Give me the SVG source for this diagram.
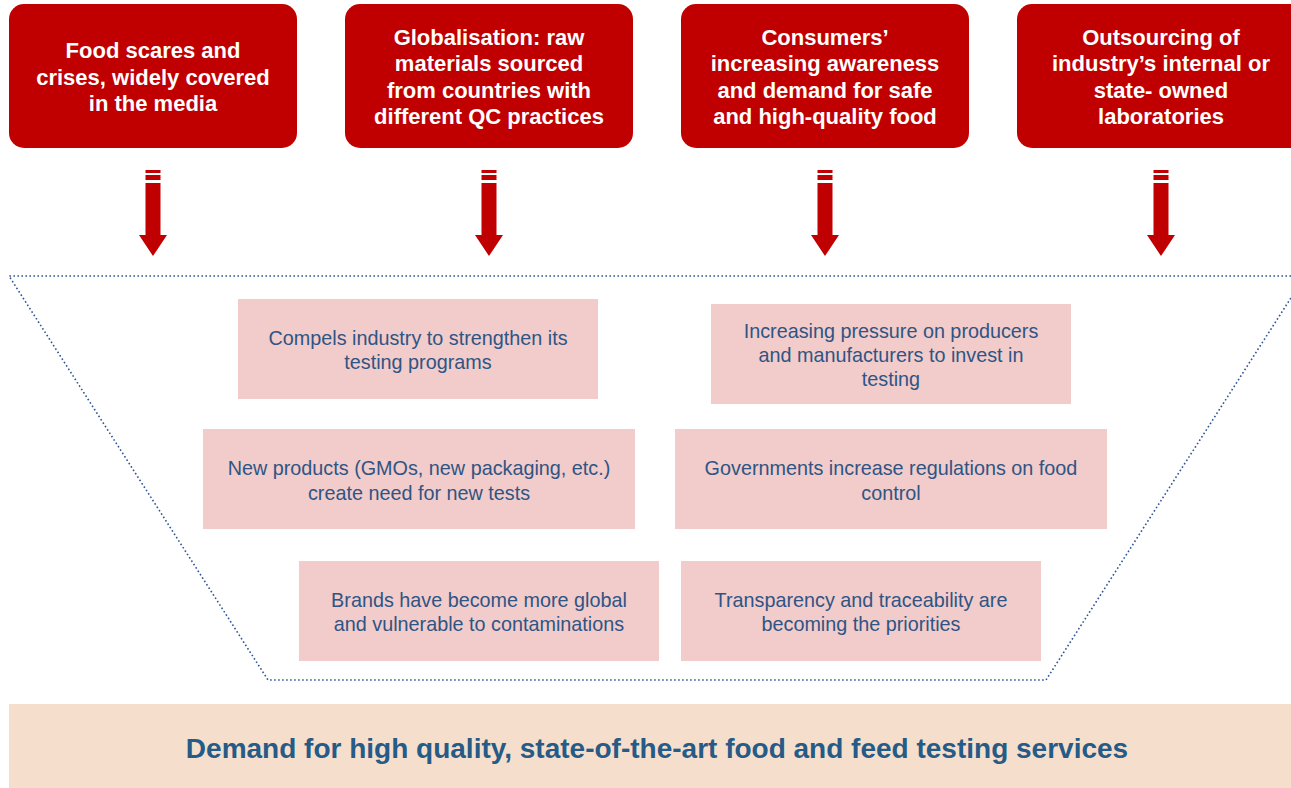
<svg xmlns="http://www.w3.org/2000/svg" width="1291" height="788" viewBox="0 0 1291 788">
<style>
.top{fill:#C00000}
.tt{font-family:"Liberation Sans",Arial,sans-serif;font-weight:bold;font-size:22px;fill:#FFFFFF;text-anchor:middle}
.pk{fill:#F2CBCB}
.pt{font-family:"Liberation Sans",Arial,sans-serif;font-size:19.8px;fill:#2E5583;text-anchor:middle}
.arr{fill:#C00000}
.dot{fill:none;stroke:#2F5597;stroke-width:1.6;stroke-dasharray:1.6 2.4}
</style>
<defs>
<g id="arrow">
<rect x="-7.5" y="170" width="15" height="3"/>
<rect x="-7.5" y="175" width="15" height="5"/>
<polygon points="-7.5,183 7.5,183 7.5,235 14,235 0,256 -14,235 -7.5,235"/>
</g>
</defs>
<rect width="1291" height="788" fill="#FFFFFF"/>
<g id="n1"><rect class="top" x="9" y="4" width="288" height="144" rx="15"/>
<text class="tt" x="153" y="58">Food scares and</text><text class="tt" x="153" y="85">crises, widely covered</text><text class="tt" x="153" y="111">in the media</text></g>
<g id="n2"><rect class="top" x="345" y="4" width="288" height="144" rx="15"/>
<text class="tt" x="489" y="45">Globalisation: raw</text><text class="tt" x="489" y="71">materials sourced</text><text class="tt" x="489" y="98">from countries with</text><text class="tt" x="489" y="124">different QC practices</text></g>
<g id="n3"><rect class="top" x="681" y="4" width="288" height="144" rx="15"/>
<text class="tt" x="825" y="45">Consumers’</text><text class="tt" x="825" y="71">increasing awareness</text><text class="tt" x="825" y="98">and demand for safe</text><text class="tt" x="825" y="124">and high-quality food</text></g>
<g id="n4"><rect class="top" x="1017" y="4" width="300" height="144" rx="15"/>
<text class="tt" x="1161" y="45">Outsourcing of</text><text class="tt" x="1161" y="71">industry’s internal or</text><text class="tt" x="1161" y="98">state- owned</text><text class="tt" x="1161" y="124">laboratories</text></g>
<g id="connectors" class="arr">
<use href="#arrow" x="153"/><use href="#arrow" x="489"/><use href="#arrow" x="825"/><use href="#arrow" x="1161"/>
</g>
<g id="funnel"><polyline class="dot" points="1295,276 9,276 268,680 1046,680 1305,276"/></g>
<g id="p1"><rect class="pk" x="238" y="299" width="360" height="100"/>
<text class="pt" x="418" y="345">Compels industry to strengthen its</text><text class="pt" x="418" y="369">testing programs</text></g>
<g id="p2"><rect class="pk" x="711" y="304" width="360" height="100"/>
<text class="pt" x="891" y="338">Increasing pressure on producers</text><text class="pt" x="891" y="362">and manufacturers to invest in</text><text class="pt" x="891" y="386">testing</text></g>
<g id="p3"><rect class="pk" x="203" y="429" width="432" height="100"/>
<text class="pt" x="419" y="475">New products (GMOs, new packaging, etc.)</text><text class="pt" x="419" y="500">create need for new tests</text></g>
<g id="p4"><rect class="pk" x="675" y="429" width="432" height="100"/>
<text class="pt" x="891" y="475">Governments increase regulations on food</text><text class="pt" x="891" y="500">control</text></g>
<g id="p5"><rect class="pk" x="299" y="561" width="360" height="100"/>
<text class="pt" x="479" y="607">Brands have become more global</text><text class="pt" x="479" y="631">and vulnerable to contaminations</text></g>
<g id="p6"><rect class="pk" x="681" y="561" width="360" height="100"/>
<text class="pt" x="861" y="607">Transparency and traceability are</text><text class="pt" x="861" y="631">becoming the priorities</text></g>
<g id="result"><rect x="9" y="704" width="1290" height="84" fill="#F5DFCC"/>
<text x="657" y="758" font-family="Liberation Sans, Arial, sans-serif" font-weight="bold" font-size="28px" fill="#265A87" text-anchor="middle">Demand for high quality, state-of-the-art food and feed testing services</text></g>
</svg>
